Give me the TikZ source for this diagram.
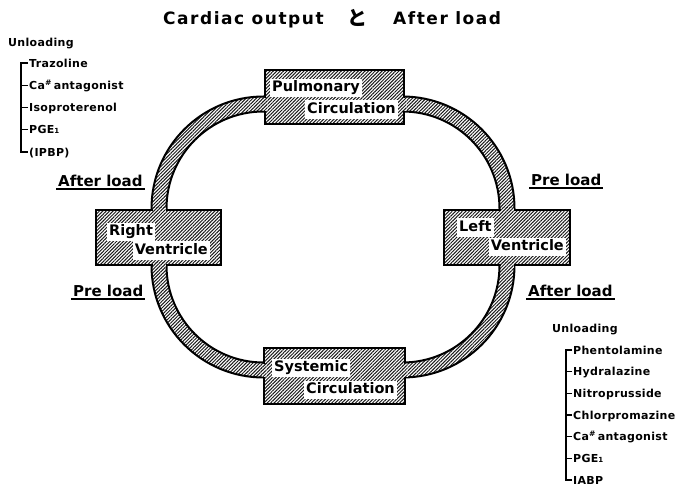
\documentclass[tikz,border=0pt]{standalone}
\usepackage{fontspec}
\setmainfont{DejaVu Sans}
\newfontfamily\jpfont{Noto Sans CJK JP}
\usetikzlibrary{patterns.meta,calc}
\tikzset{
  hatch/.style={preaction={fill=white}, pattern={Lines[angle=45,distance=2.4pt,line width=1pt]}, pattern color=black!90},
  box/.style={hatch, draw, line width=2.2pt, inner sep=0pt},
  lbl/.style={fill=white, inner xsep=2pt, inner ysep=2.5pt, text height=10.5pt, text depth=3pt, font=\fontsize{14.5}{16}\selectfont\bfseries},
  item/.style={anchor=base west, inner sep=0pt, font=\fontsize{11}{13}\selectfont\bfseries\addfontfeature{LetterSpace=3}},
  ul/.style={anchor=base west, inner xsep=2pt, inner ysep=3pt, text depth=0pt, font=\fontsize{15}{17}\selectfont\bfseries},
  ttl/.style={anchor=base west, inner sep=0pt, font=\fontsize{17}{19}\selectfont\bfseries\addfontfeature{LetterSpace=9}},
  brk/.style={line width=1.3pt},
  uline/.style={line width=1.5pt}
}
\begin{document}
\begin{tikzpicture}[x=1pt,y=-1pt]
\useasboundingbox (0,0) rectangle (675,487);

% title
\node[ttl] (t1) at (163,25) {Cardiac output};
\node[anchor=base west, inner sep=0pt] (t2) at (347,26) {\jpfont\bfseries\fontsize{20}{22}\selectfont と};
\node[ttl] (t3) at (393,25) {After load};

% ring
\path[even odd rule, hatch, draw, line width=2pt]
  (151.5,96.5) [rounded corners=112pt] rectangle (514.5,377.5)
  (166.5,111.5) [rounded corners=97pt] rectangle (499.5,362.5);

% boxes
\node[box, minimum width=139pt, minimum height=54pt] (pul) at (334.5,97) {};
\node[box, minimum width=141pt, minimum height=56pt] (sys) at (334.5,376) {};
\node[box, minimum width=125pt, minimum height=55pt] (rv) at (158.5,237.5) {};
\node[box, minimum width=126pt, minimum height=55pt] (lv) at (507,237.5) {};

% junction patches
\path[hatch] (262.5,97.5) rectangle (267.5,110.5);
\path[hatch] (401.5,97.5) rectangle (406.5,110.5);
\path[hatch] (261.5,363.5) rectangle (266.5,376.5);
\path[hatch] (402.5,363.5) rectangle (407.5,376.5);
\path[hatch] (152.5,207.5) rectangle (165.5,212.5);
\path[hatch] (152.5,262.5) rectangle (165.5,267.5);
\path[hatch] (500.5,207.5) rectangle (513.5,212.5);
\path[hatch] (500.5,262.5) rectangle (513.5,267.5);

% box labels
\node[lbl, anchor=west] (pul1) at (270,88) {Pulmonary};
\node[lbl, anchor=east] (pul2) at (398,109.5) {Circulation};
\node[lbl, anchor=west] (rv1) at (107,232) {Right};
\node[lbl, anchor=east] (rv2) at (210,250.5) {Ventricle};
\node[lbl, anchor=west] (lv1) at (457,227.5) {Left};
\node[lbl, anchor=east] (lv2) at (566,247) {Ventricle};
\node[lbl, anchor=west] (sys1) at (272,368) {Systemic};
\node[lbl, anchor=east] (sys2) at (397,390) {Circulation};

% load labels
\node[ul] (al) at (56,186) {After load};
\draw[uline] (al.south west) -- (al.south east);
\node[ul] (pl) at (71,296) {Pre load};
\draw[uline] (pl.south west) -- (pl.south east);
\node[ul] (pr) at (529,185) {Pre load};
\draw[uline] (pr.south west) -- (pr.south east);
\node[ul] (ar) at (526,296) {After load};
\draw[uline] (ar.south west) -- (ar.south east);

% left list
\node[item] (lu) at (8,47) {Unloading};
\node[item] (l1) at (29,67) {Trazoline};
\node[item] (l2) at (29,89.25) {Ca\textsuperscript{\#}\,antagonist};
\node[item] (l3) at (29,111.5) {Isoproterenol};
\node[item] (l4) at (29,133.75) {PGE{\fontsize{7}{7}\selectfont 1}};
\node[item] (l5) at (29,156) {(IPBP)};
\draw[brk] ($(l1.base west)+(-1,-4)$) -| ($(l5.base west)+(-8,-4)$) -- ($(l5.base west)+(-1,-4)$);
\foreach \n in {l2,l3,l4} \draw[brk] ($(\n.base west)+(-1,-4)$) -- ++(-7,0);

% right list
\node[item] (ru) at (552,332) {Unloading};
\node[item] (r1) at (573,354) {Phentolamine};
\node[item] (r2) at (573,375.7) {Hydralazine};
\node[item] (r3) at (573,397.4) {Nitroprusside};
\node[item] (r4) at (573,419.1) {Chlorpromazine};
\node[item] (r5) at (573,440.8) {Ca\textsuperscript{\#}\,antagonist};
\node[item] (r6) at (573,462.5) {PGE{\fontsize{7}{7}\selectfont 1}};
\node[item] (r7) at (573,484) {IABP};
\draw[brk] ($(r1.base west)+(-1,-4)$) -| ($(r7.base west)+(-7,-4)$) -- ($(r7.base west)+(-1,-4)$);
\foreach \n in {r2,r3,r4,r5,r6} \draw[brk] ($(\n.base west)+(-1,-4)$) -- ++(-6,0);
\end{tikzpicture}
\end{document}
